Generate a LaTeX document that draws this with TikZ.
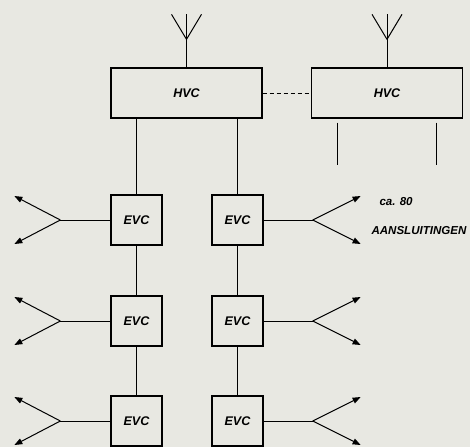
\documentclass[tikz,border=0pt]{standalone}
\usepackage{fontspec}
\setmainfont{Liberation Sans}
\usetikzlibrary{arrows.meta,calc}
\definecolor{paper}{RGB}{232,232,226}
\begin{document}
\begin{tikzpicture}[x=1pt,y=-1pt,
  line width=1pt,
  hvcbox/.style={draw,line width=1.3pt,minimum width=151pt,minimum height=50pt,inner sep=0pt,font=\bfseries\itshape\fontsize{12.5bp}{14bp}\selectfont},
  evcbox/.style={draw,line width=1.3pt,minimum width=51pt,minimum height=50pt,inner sep=0pt,font=\bfseries\itshape\fontsize{12.5bp}{14bp}\selectfont},
  label/.style={inner sep=0pt,anchor=west,font=\bfseries\itshape\fontsize{11.5bp}{13bp}\selectfont},
  tip/.style={-{Triangle[length=8pt,width=6pt]}}]
\fill[paper] (0,0) rectangle (470,447);
\useasboundingbox (0,0) rectangle (470,447);
\node[hvcbox] (hvcA) at (186.5,93) {HVC};
\node[hvcbox] (hvcB) at (387,93) {HVC};
\node[evcbox] (evcL1) at (136.5,220) {EVC};
\node[evcbox] (evcR1) at (237.5,220) {EVC};
\node[evcbox] (evcL2) at (136.5,321) {EVC};
\node[evcbox] (evcR2) at (237.5,321) {EVC};
\node[evcbox] (evcL3) at (136.5,421) {EVC};
\node[evcbox] (evcR3) at (237.5,421) {EVC};
\node[label] (lblCa) at (379,202) {ca. 80};
\node[label] (lblAan) at (371,231) {AANSLUITINGEN};
% antennes
\foreach \h in {hvcA,hvcB}{
  \draw (\h.north) -- ++(0,-53);
  \draw (\h.north) ++(0,-28) coordinate (\h ant) -- ++(-15,-25);
  \draw (\h ant) -- ++(15,-25);
}
\draw[dash pattern=on 4pt off 3pt] (hvcA.east) -- (hvcB.west);
\draw (evcL1.north) -- (evcL1.north |- hvcA.south);
\draw (evcR1.north) -- (evcR1.north |- hvcA.south);
\draw ($(hvcB.south west)+(27,4)$) -- ++(0,42);
\draw ($(hvcB.south west)+(126,4)$) -- ++(0,42);
\draw (evcL1.south) -- (evcL2.north);
\draw (evcL2.south) -- (evcL3.north);
\draw (evcR1.south) -- (evcR2.north);
\draw (evcR2.south) -- (evcR3.north);
% aansluitingen
\foreach \r in {1,2,3}{
  \draw (evcL\r.west) -- ++(-50,0) coordinate (fanL\r);
  \draw[tip] (fanL\r) -- ++(-46,-24);
  \draw[tip] (fanL\r) -- ++(-46,24);
  \draw (evcR\r.east) -- ++(49,0) coordinate (fanR\r);
  \draw[tip] (fanR\r) -- ++(48,-24);
  \draw[tip] (fanR\r) -- ++(48,24);
}
\end{tikzpicture}
\end{document}
